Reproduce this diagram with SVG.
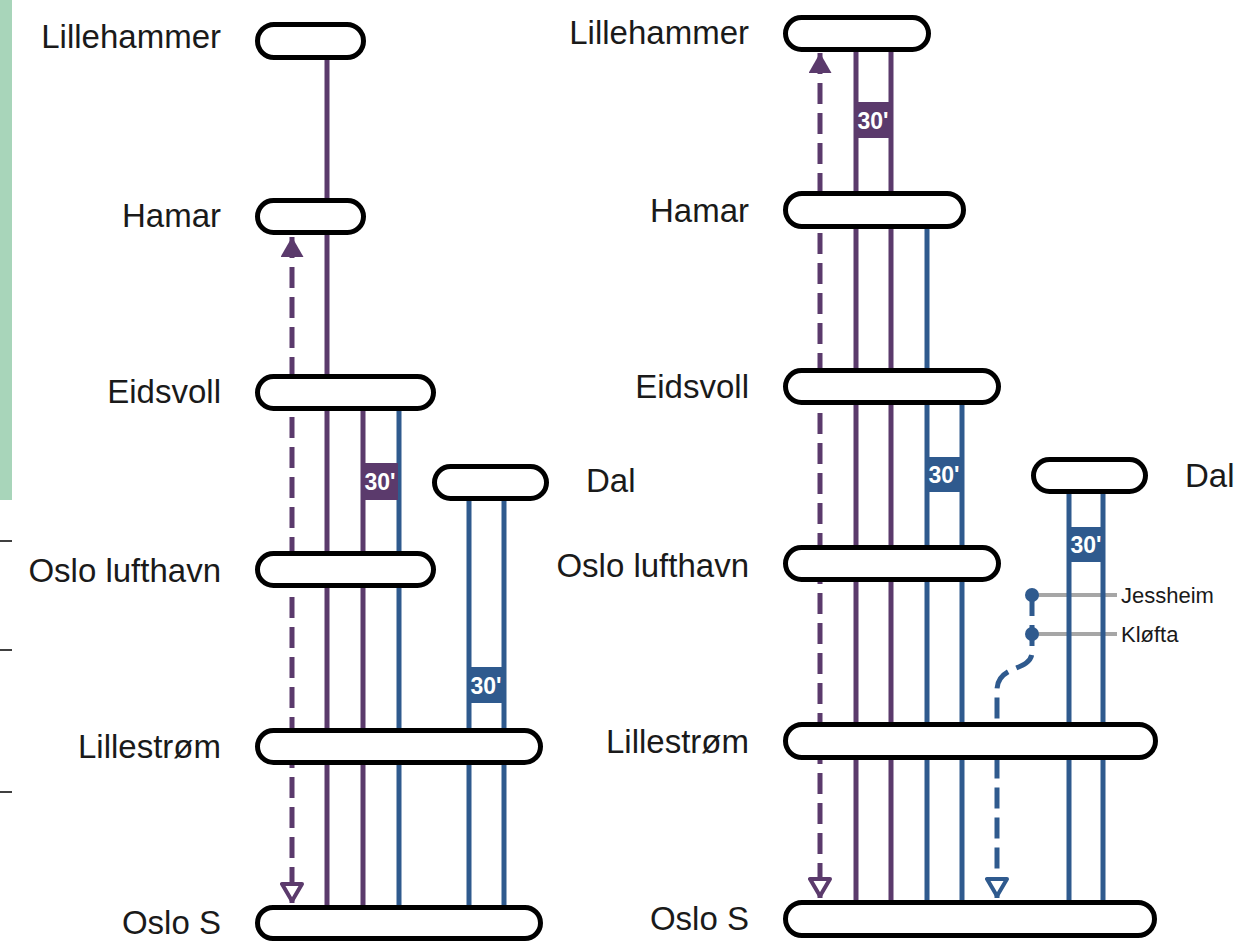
<svg xmlns="http://www.w3.org/2000/svg" width="1260" height="945" viewBox="0 0 1260 945">
<style>
.st{fill:#fff;stroke:#000;stroke-width:5}
.lbl{font-family:"Liberation Sans",Arial,sans-serif;font-size:33px;fill:#1a1a1a}
.sm{font-family:"Liberation Sans",Arial,sans-serif;font-size:22px;fill:#1a1a1a}
.p{stroke:#5b3a6c;stroke-width:5;fill:none}
.b{stroke:#2f5a8e;stroke-width:5;fill:none}
.dash{stroke-dasharray:21 9}
.g{stroke:#a6a6a6;stroke-width:4;fill:none}
.t30{font-family:"Liberation Sans",Arial,sans-serif;font-size:23px;font-weight:bold;fill:#fff;text-anchor:middle}
.tick{stroke:#000;stroke-width:1.5}
</style>
<defs>
<marker id="fillP" markerUnits="userSpaceOnUse" markerWidth="20" markerHeight="23" viewBox="0 0 20 23" refX="20" refY="11.5" orient="auto-start-reverse"><path d="M0,0 L20,11.5 L0,23 Z" fill="#5b3a6c"/></marker>
<marker id="openP" markerUnits="userSpaceOnUse" markerWidth="21" markerHeight="24" viewBox="-2 -2 21 24" refX="19" refY="10" orient="auto-start-reverse"><path d="M0,0 L17,10 L0,20 Z" fill="#fff" stroke="#5b3a6c" stroke-width="4" stroke-linejoin="round"/></marker>
<marker id="openB" markerUnits="userSpaceOnUse" markerWidth="21" markerHeight="24" viewBox="-2 -2 21 24" refX="19" refY="10" orient="auto-start-reverse"><path d="M0,0 L17,10 L0,20 Z" fill="#fff" stroke="#2f5a8e" stroke-width="4" stroke-linejoin="round"/></marker>
</defs>
<rect width="1260" height="945" fill="#fff"/>
<g id="margin">
<rect x="0" y="0" width="12" height="500" fill="#a8d5ba"/>
<line class="tick" x1="0" y1="541" x2="12" y2="541"/>
<line class="tick" x1="0" y1="650" x2="12" y2="650"/>
<line class="tick" x1="0" y1="792" x2="12" y2="792"/>
</g>
<g id="connectors">
<path class="p dash" d="M292,237 L292,903" marker-start="url(#fillP)" marker-end="url(#openP)"/>
<path class="p" d="M327,41 L327,923"/>
<path class="p" d="M363,392 L363,923"/>
<path class="b" d="M399,392 L399,923"/>
<path class="b" d="M469,482 L469,923"/>
<path class="b" d="M504,482 L504,923"/>
<path class="p dash" d="M820,53 L820,898" marker-start="url(#fillP)" marker-end="url(#openP)"/>
<path class="p" d="M856,33 L856,919"/>
<path class="p" d="M891,33 L891,919"/>
<path class="b" d="M927,210 L927,919"/>
<path class="b" d="M962,386 L962,919"/>
<path class="g" d="M1032,595 L1117,595 M1032,634 L1117,634"/>
<path class="b" d="M1069,475 L1069,919"/>
<path class="b" d="M1103,475 L1103,919"/>
<path class="b dash" d="M1032,595 L1032,652 C1032,672 997,664 997,690 L997,898" marker-end="url(#openB)"/>
<circle cx="1032" cy="595" r="7" fill="#2f5a8e"/>
<circle cx="1032" cy="634" r="7" fill="#2f5a8e"/>
</g>
<g id="freq-labels">
<g id="f1"><rect x="361" y="463" width="37" height="37" fill="#5b3a6c"/><text class="t30" x="380" y="490">30'</text></g>
<g id="f2"><rect x="467" y="667" width="39" height="36" fill="#2f5a8e"/><text class="t30" x="486" y="694">30'</text></g>
<g id="f3"><rect x="854" y="102" width="39" height="36" fill="#5b3a6c"/><text class="t30" x="873" y="129">30'</text></g>
<g id="f4"><rect x="925" y="457" width="39" height="35" fill="#2f5a8e"/><text class="t30" x="944" y="483">30'</text></g>
<g id="f5"><rect x="1067" y="527" width="38" height="35" fill="#2f5a8e"/><text class="t30" x="1086" y="553">30'</text></g>
</g>
<g id="L-lillehammer"><rect class="st" x="257.5" y="24.5" width="106" height="33" rx="16.5"/><text class="lbl" x="221" y="48" text-anchor="end">Lillehammer</text></g>
<g id="L-hamar"><rect class="st" x="257.5" y="200.5" width="106" height="32" rx="16"/><text class="lbl" x="221" y="227" text-anchor="end">Hamar</text></g>
<g id="L-eidsvoll"><rect class="st" x="257.5" y="376.5" width="176" height="32" rx="16"/><text class="lbl" x="221" y="403" text-anchor="end">Eidsvoll</text></g>
<g id="L-dal"><rect class="st" x="434.5" y="466.5" width="112" height="32" rx="16"/><text class="lbl" x="586" y="492">Dal</text></g>
<g id="L-oslolufthavn"><rect class="st" x="257.5" y="553.5" width="176" height="32" rx="16"/><text class="lbl" x="221" y="582" text-anchor="end">Oslo lufthavn</text></g>
<g id="L-lillestrom"><rect class="st" x="257.5" y="730.5" width="283" height="32" rx="16"/><text class="lbl" x="221" y="758" text-anchor="end">Lillestrøm</text></g>
<g id="L-oslos"><rect class="st" x="257.5" y="907.5" width="283" height="31" rx="15.5"/><text class="lbl" x="221" y="934" text-anchor="end">Oslo S</text></g>
<g id="R-lillehammer"><rect class="st" x="785.5" y="17.5" width="143" height="32" rx="16"/><text class="lbl" x="749" y="44" text-anchor="end">Lillehammer</text></g>
<g id="R-hamar"><rect class="st" x="785.5" y="193.5" width="178" height="33" rx="16.5"/><text class="lbl" x="749" y="222" text-anchor="end">Hamar</text></g>
<g id="R-eidsvoll"><rect class="st" x="785.5" y="370.5" width="213" height="32" rx="16"/><text class="lbl" x="749" y="398" text-anchor="end">Eidsvoll</text></g>
<g id="R-dal"><rect class="st" x="1033.5" y="459.5" width="112" height="32" rx="16"/><text class="lbl" x="1185" y="487">Dal</text></g>
<g id="R-oslolufthavn"><rect class="st" x="785.5" y="547.5" width="213" height="32" rx="16"/><text class="lbl" x="749" y="577" text-anchor="end">Oslo lufthavn</text></g>
<g id="R-lillestrom"><rect class="st" x="785.5" y="724.5" width="370" height="33" rx="16.5"/><text class="lbl" x="749" y="753" text-anchor="end">Lillestrøm</text></g>
<g id="R-oslos"><rect class="st" x="785.5" y="902.5" width="369" height="33" rx="16.5"/><text class="lbl" x="749" y="930" text-anchor="end">Oslo S</text></g>
<g id="R-jessheim"><text class="sm" x="1121" y="603">Jessheim</text></g>
<g id="R-klofta"><text class="sm" x="1121" y="642">Kløfta</text></g>
</svg>
